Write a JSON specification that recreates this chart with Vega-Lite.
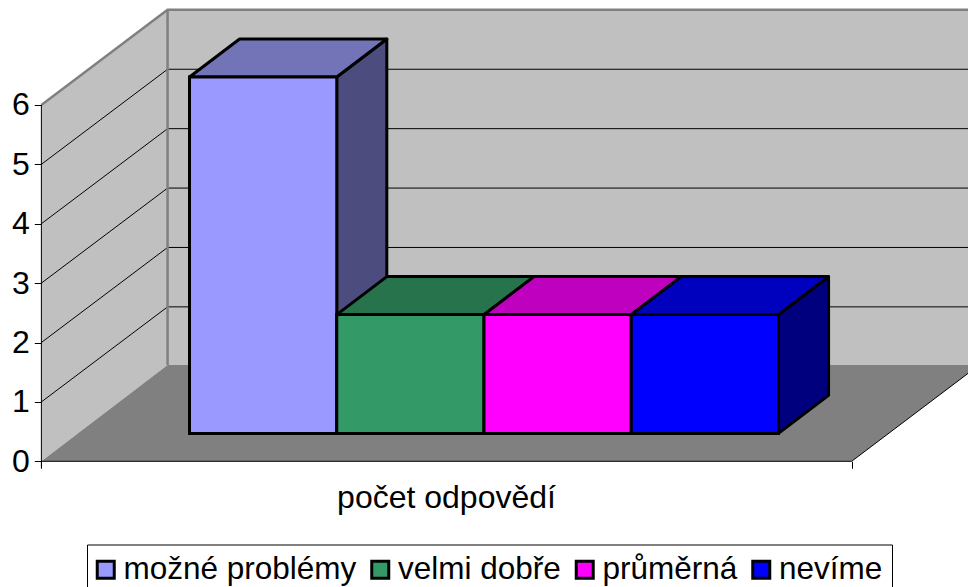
{
"$schema":"https://vega.github.io/schema/vega-lite/v6.json",
"width":968,"height":587,"padding":0,"autosize":{"type":"none"},"background":"white",
"view":{"stroke":null},
"config":{"font":"Liberation Sans"},
"encoding":{
 "x":{"field":"x","type":"quantitative","scale":{"domain":[-1.287,5.287],"nice":false,"zero":false},
  "axis":{"orient":"bottom","offset":-125.7,"values":[-1.006,4.497],"labels":false,"domain":false,"grid":false,"tickSize":7,"tickColor":"black","title":"počet odpovědí","titleFont":"Liberation Sans","titleFontSize":32,"titleFontWeight":"normal","titleColor":"black","titleX":446,"titleY":46,"titleAlign":"center","titleBaseline":"alphabetic"}},
 "y":{"field":"y","type":"quantitative","scale":{"domain":[-2.116,7.766],"nice":false,"zero":false},
  "axis":{"orient":"left","offset":-41.3,"values":[0,1,2,3,4,5,6],"format":"d","domain":false,"grid":false,"tickSize":7,"tickColor":"black","labelFont":"Liberation Sans","labelFontSize":32,"labelColor":"black","labelPadding":5,"title":null}}
},
"layer":[
 {"data":{"values":[{"x":-0.149,"x2":5.4,"y":1.62,"y2":7.6}]},"mark":{"type":"rect","fill":"#C0C0C0"},"encoding":{"x2":{"field":"x2"},"y2":{"field":"y2"}}},
 {"data":{"values":[{"x":-1.006,"y":0,"y2":6},{"x":-0.149,"y":1.62,"y2":7.6}]},"mark":{"type":"area","orient":"vertical","fill":"#C0C0C0"},"encoding":{"y2":{"field":"y2"}}},
 {"data":{"values":[{"y":0,"x":-1.006,"x2":4.497},{"y":1.62,"x":-0.149,"x2":5.362}]},"mark":{"type":"area","orient":"horizontal","fill":"#808080"},"encoding":{"x2":{"field":"x2"}}},
 {"data":{"values":[
  {"k":1,"o":0,"x":-1.006,"y":1},{"k":1,"o":1,"x":-0.149,"y":2.6},{"k":1,"o":2,"x":5.4,"y":2.6},
  {"k":2,"o":0,"x":-1.006,"y":2},{"k":2,"o":1,"x":-0.149,"y":3.6},{"k":2,"o":2,"x":5.4,"y":3.6},
  {"k":3,"o":0,"x":-1.006,"y":3},{"k":3,"o":1,"x":-0.149,"y":4.6},{"k":3,"o":2,"x":5.4,"y":4.6},
  {"k":4,"o":0,"x":-1.006,"y":4},{"k":4,"o":1,"x":-0.149,"y":5.6},{"k":4,"o":2,"x":5.4,"y":5.6},
  {"k":5,"o":0,"x":-1.006,"y":5},{"k":5,"o":1,"x":-0.149,"y":6.6},{"k":5,"o":2,"x":5.4,"y":6.6}
 ]},"mark":{"type":"line","color":"black","strokeWidth":1},"encoding":{"detail":{"field":"k"},"order":{"field":"o"}}},
 {"data":{"values":[
  {"k":"a","o":0,"x":-1.006,"y":6},{"k":"a","o":1,"x":-0.149,"y":7.6},{"k":"a","o":2,"x":5.4,"y":7.6},
  {"k":"b","o":0,"x":-0.149,"y":7.6},{"k":"b","o":1,"x":-0.149,"y":1.62}
 ]},"mark":{"type":"line","color":"#808080","strokeWidth":2.5},"encoding":{"detail":{"field":"k"},"order":{"field":"o"}}},
 {"data":{"values":[
  {"k":"a","o":0,"x":-1.006,"y":6},{"k":"a","o":1,"x":-1.006,"y":-0.11},
  {"k":"b","o":0,"x":-1.006,"y":0},{"k":"b","o":1,"x":4.497,"y":0},{"k":"b","o":2,"x":5.362,"y":1.62}
 ]},"mark":{"type":"line","color":"black","strokeWidth":1},"encoding":{"detail":{"field":"k"},"order":{"field":"o"}}},
 {"data":{"values":[
  {"series":"možné problémy","x":1,"y":0.47,"y2":6.47},{"series":"možné problémy","x":1.34,"y":1.11,"y2":7.11},
  {"series":"velmi dobře","x":2,"y":0.47,"y2":2.47},{"series":"velmi dobře","x":2.34,"y":1.11,"y2":3.11},
  {"series":"průměrná","x":3,"y":0.47,"y2":2.47},{"series":"průměrná","x":3.34,"y":1.11,"y2":3.11},
  {"series":"nevíme","x":4,"y":0.47,"y2":2.47},{"series":"nevíme","x":4.34,"y":1.11,"y2":3.11}
 ]},"mark":{"type":"area","orient":"vertical","stroke":"black","strokeWidth":3,"strokeJoin":"round"},
  "encoding":{"y2":{"field":"y2"},"color":{"field":"series","type":"nominal","legend":null,"scale":{"domain":["možné problémy","velmi dobře","průměrná","nevíme"],"range":["#4C4C7F","#194C33","#7F007F","#00007F"]}}}},
 {"data":{"values":[
  {"series":"možné problémy","y":6.47,"x":0,"x2":1},{"series":"možné problémy","y":7.11,"x":0.34,"x2":1.34},
  {"series":"velmi dobře","y":2.47,"x":1,"x2":2},{"series":"velmi dobře","y":3.11,"x":1.34,"x2":2.34},
  {"series":"průměrná","y":2.47,"x":2,"x2":3},{"series":"průměrná","y":3.11,"x":2.34,"x2":3.34},
  {"series":"nevíme","y":2.47,"x":3,"x2":4},{"series":"nevíme","y":3.11,"x":3.34,"x2":4.34}
 ]},"mark":{"type":"area","orient":"horizontal","stroke":"black","strokeWidth":3,"strokeJoin":"round"},
  "encoding":{"x2":{"field":"x2"},"color":{"field":"series","type":"nominal","legend":null,"scale":{"domain":["možné problémy","velmi dobře","průměrná","nevíme"],"range":["#7373B8","#26734C","#BF00BF","#0000BF"]}}}},
 {"data":{"values":[
  {"series":"možné problémy","value":6,"x":0,"x2":1,"y":0.47,"y2":6.47},
  {"series":"velmi dobře","value":2,"x":1,"x2":2,"y":0.47,"y2":2.47},
  {"series":"průměrná","value":2,"x":2,"x2":3,"y":0.47,"y2":2.47},
  {"series":"nevíme","value":2,"x":3,"x2":4,"y":0.47,"y2":2.47}
 ]},"mark":{"type":"rect","stroke":"black","strokeWidth":3,"strokeJoin":"miter"},
  "encoding":{"x2":{"field":"x2"},"y2":{"field":"y2"},"color":{"field":"series","type":"nominal","scale":{"domain":["možné problémy","velmi dobře","průměrná","nevíme"],"range":["#9999FF","#339966","#FF00FF","#0000FF"]},
   "legend":{"orient":"none","legendX":87,"legendY":544.5,"direction":"horizontal","columns":4,"title":null,"fillColor":"white","strokeColor":"black","padding":9,"symbolType":"square","symbolSize":289,"symbolOffset":-6,"symbolStrokeColor":"black","symbolStrokeWidth":3,"symbolOpacity":1,"labelFont":"Liberation Sans","labelFontSize":31.5,"labelColor":"black","labelOffset":2,"columnPadding":8.5,"labelLimit":400}}}}
],
"resolve":{"scale":{"color":"independent"}}
}
